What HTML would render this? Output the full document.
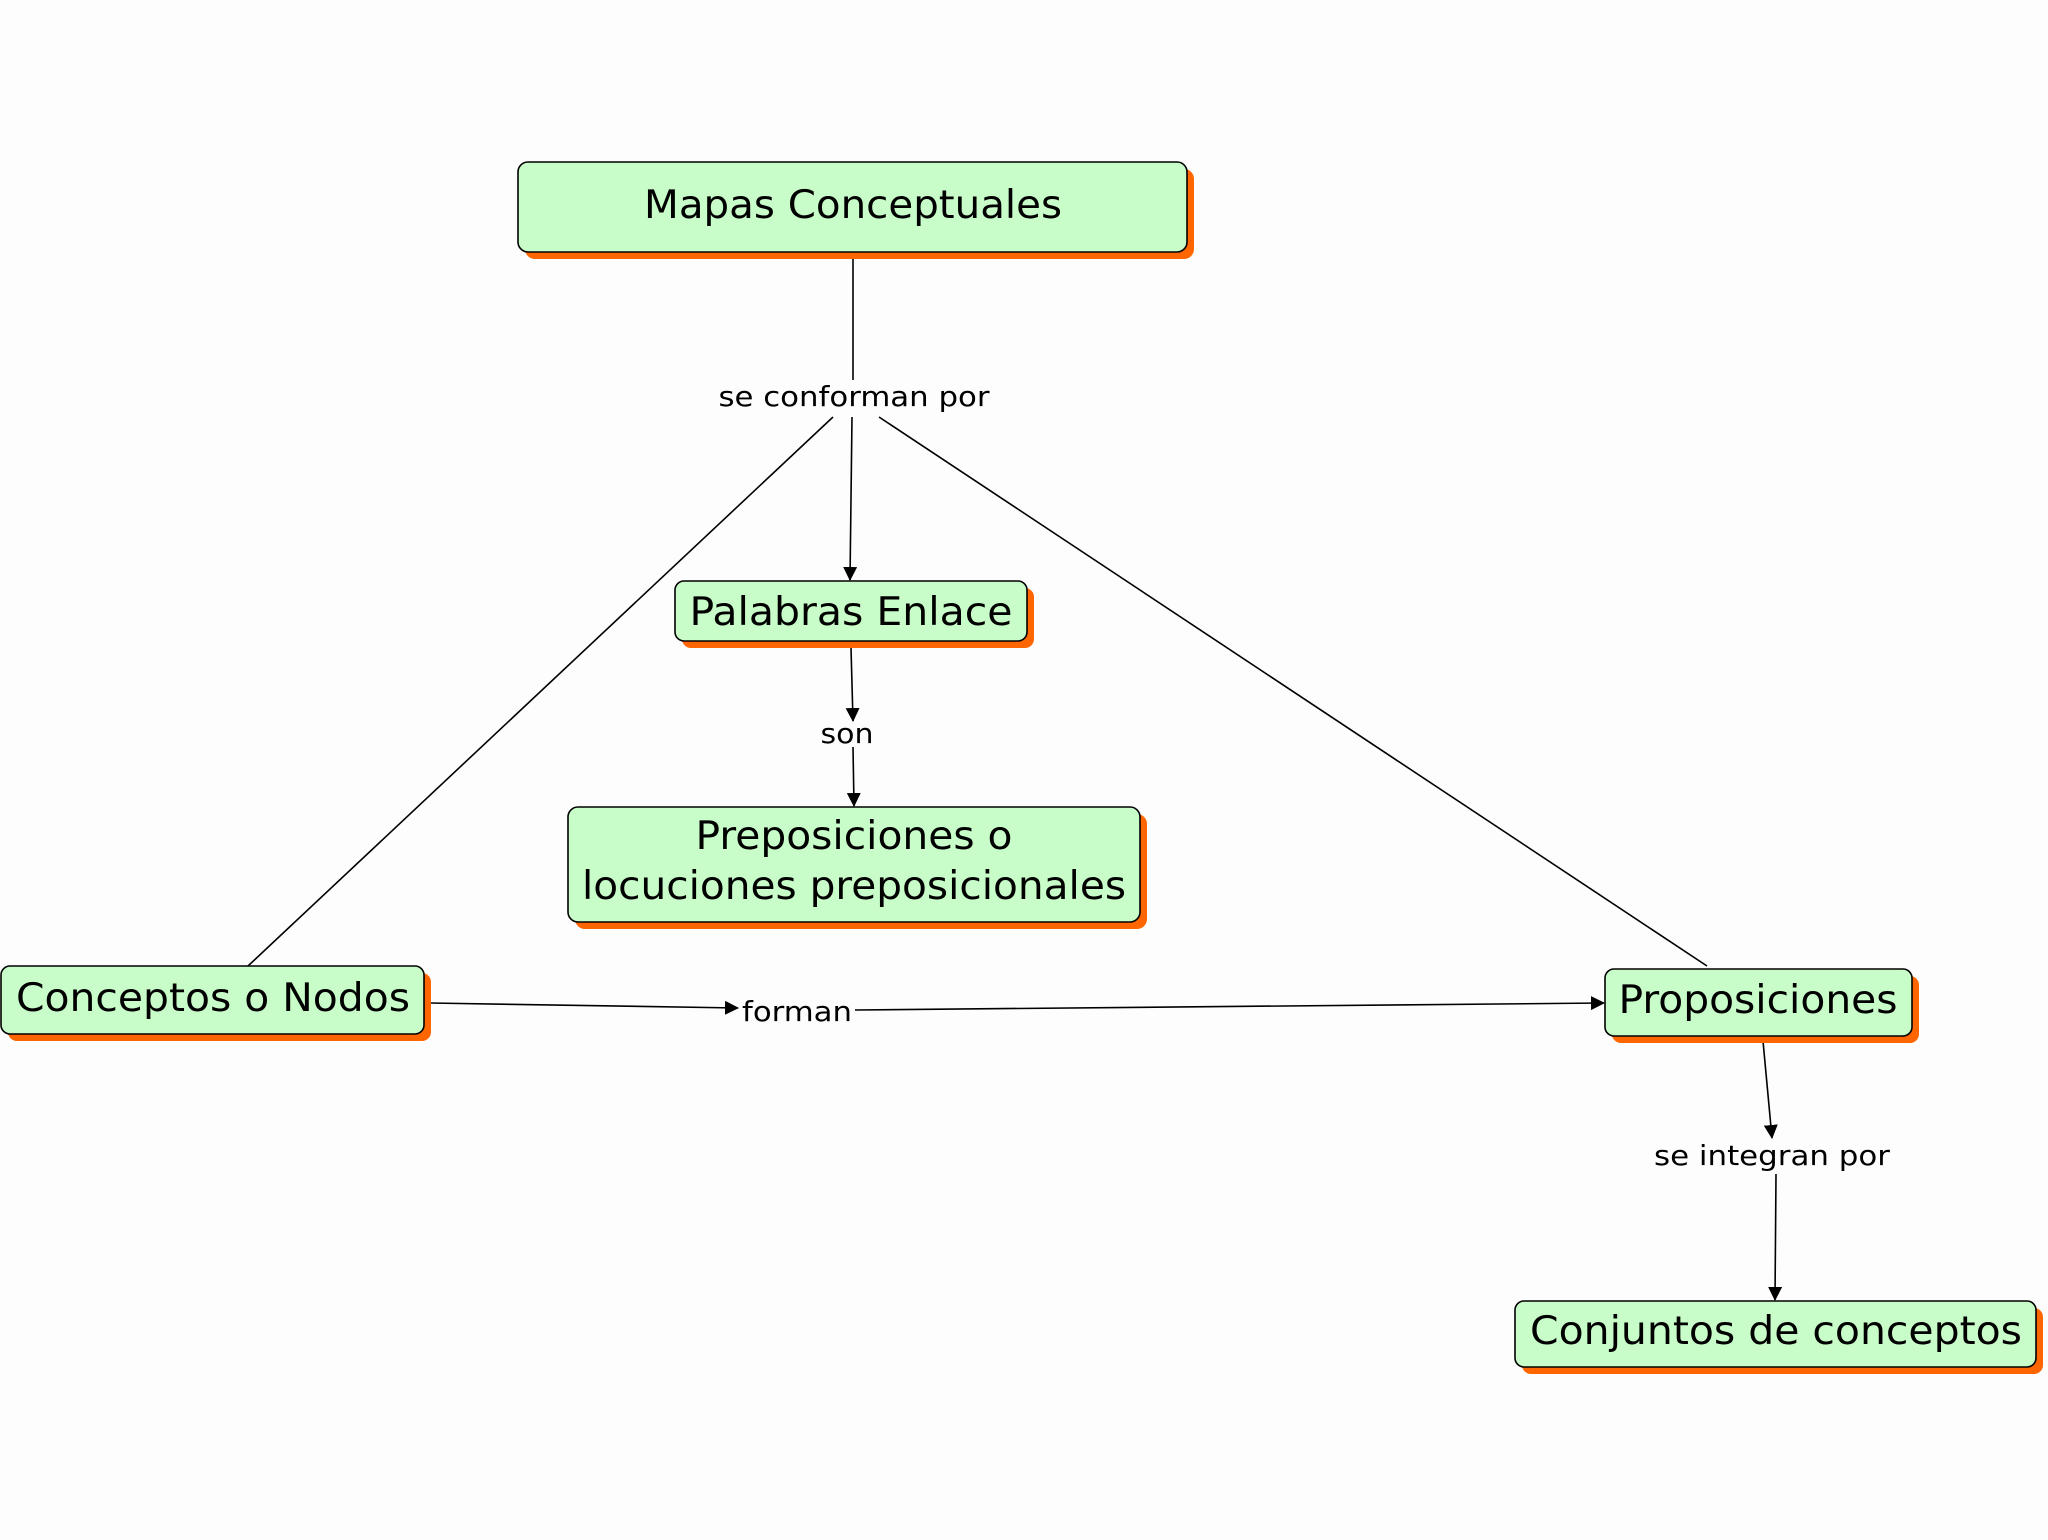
<!DOCTYPE html>
<html><head><meta charset="utf-8"><style>html,body{margin:0;padding:0;background:#fdfdfd;}svg{display:block}</style></head>
<body>
<svg width="2048" height="1540" viewBox="0 0 2048 1540" xmlns="http://www.w3.org/2000/svg" font-family="'DejaVu Sans','Liberation Sans',sans-serif">
<defs><marker id="a" markerWidth="14" markerHeight="14" refX="13" refY="7" orient="auto" markerUnits="userSpaceOnUse"><path d="M0,0 L14,7 L0,14 z" fill="#000"/></marker></defs>
<rect width="2048" height="1540" fill="#fdfdfd"/>
<g stroke="#000" stroke-width="1.6" fill="none">
<line x1="853" y1="252" x2="853" y2="380"/>
<line x1="833" y1="417" x2="248" y2="966"/>
<line x1="879" y1="417" x2="1707" y2="966"/>
<line x1="852" y1="417" x2="850" y2="580" marker-end="url(#a)"/>
<line x1="851" y1="648" x2="853" y2="721" marker-end="url(#a)"/>
<line x1="853" y1="747" x2="854" y2="806" marker-end="url(#a)"/>
<line x1="430" y1="1003" x2="738" y2="1008" marker-end="url(#a)"/>
<line x1="855" y1="1010" x2="1604" y2="1003" marker-end="url(#a)"/>
<line x1="1763" y1="1041" x2="1772" y2="1138" marker-end="url(#a)"/>
<line x1="1776" y1="1174" x2="1775" y2="1300" marker-end="url(#a)"/>
</g>
<g fill="#ff6600">
<rect x="525" y="169" width="669" height="90" rx="10"/>
<rect x="682" y="588" width="352" height="60" rx="9"/>
<rect x="575" y="814" width="572" height="115" rx="10"/>
<rect x="8" y="973" width="423" height="68" rx="9"/>
<rect x="1612" y="976" width="307" height="67" rx="9"/>
<rect x="1522" y="1308" width="521" height="66" rx="9"/>
</g>
<g fill="#c8fcc8" stroke="#000" stroke-width="1.6">
<rect x="518" y="162" width="669" height="90" rx="10"/>
<rect x="675" y="581" width="352" height="60" rx="9"/>
<rect x="568" y="807" width="572" height="115" rx="10"/>
<rect x="1" y="966" width="423" height="68" rx="9"/>
<rect x="1605" y="969" width="307" height="67" rx="9"/>
<rect x="1515" y="1301" width="521" height="66" rx="9"/>
</g>
<g fill="#000" text-anchor="middle" font-size="39">
<text x="853" y="218" textLength="418" lengthAdjust="spacingAndGlyphs">Mapas Conceptuales</text>
<text x="851" y="625" textLength="323" lengthAdjust="spacingAndGlyphs">Palabras Enlace</text>
<text x="854" y="849" textLength="317" lengthAdjust="spacingAndGlyphs">Preposiciones o</text>
<text x="854" y="899" textLength="544" lengthAdjust="spacingAndGlyphs">locuciones preposicionales</text>
<text x="213" y="1011" textLength="394" lengthAdjust="spacingAndGlyphs">Conceptos o Nodos</text>
<text x="1758" y="1013" textLength="279" lengthAdjust="spacingAndGlyphs">Proposiciones</text>
<text x="1776" y="1344" textLength="492" lengthAdjust="spacingAndGlyphs">Conjuntos de conceptos</text>
</g>
<g fill="#000" text-anchor="middle" font-size="28">
<text x="854" y="406" textLength="271" lengthAdjust="spacingAndGlyphs">se conforman por</text>
<text x="847" y="743" textLength="53" lengthAdjust="spacingAndGlyphs">son</text>
<text x="797" y="1021" textLength="110" lengthAdjust="spacingAndGlyphs">forman</text>
<text x="1772" y="1165" textLength="236" lengthAdjust="spacingAndGlyphs">se integran por</text>
</g>
</svg>
</body></html>
